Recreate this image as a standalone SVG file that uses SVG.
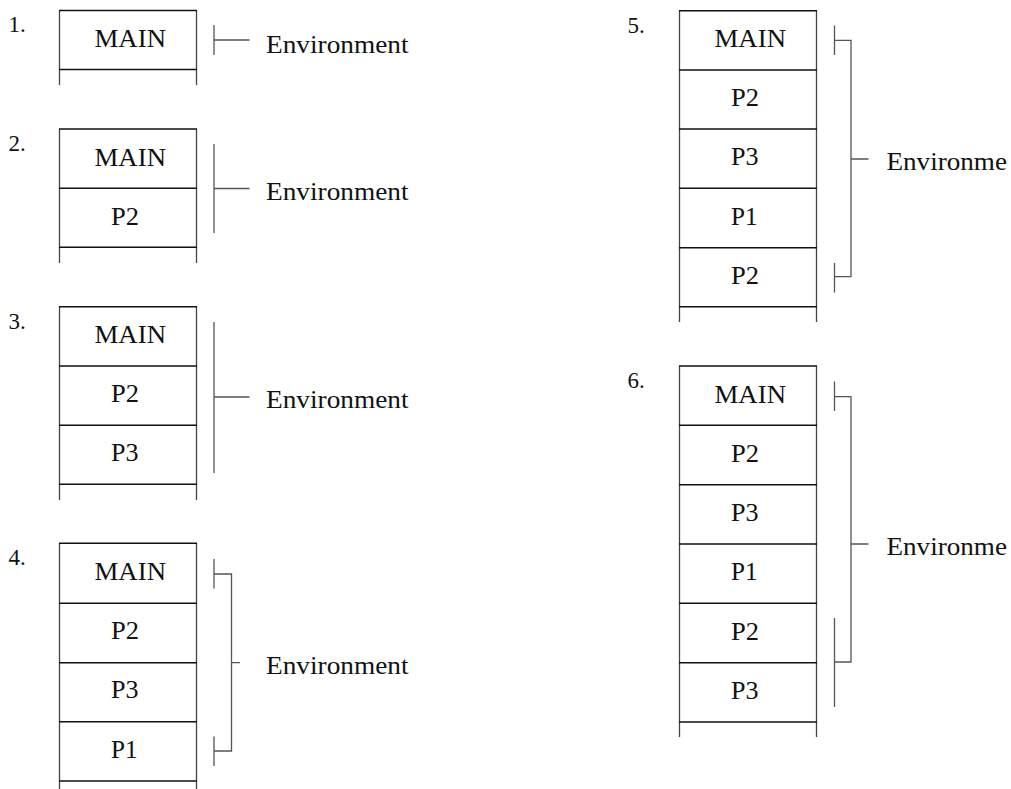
<svg xmlns="http://www.w3.org/2000/svg" width="1011" height="789" viewBox="0 0 1011 789">
<style>
.v{stroke:#444;stroke-width:1.3;fill:none}
.h{stroke:#111;stroke-width:1.4;fill:none}
.br{stroke:#555;stroke-width:1.3;fill:none}
.t{font-family:"Liberation Serif","Times New Roman",serif;font-size:25px;fill:#111}
.n{font-family:"Liberation Serif","Times New Roman",serif;font-size:23px;fill:#111}
</style>
<rect width="1011" height="789" fill="#fff"/>
<g id="stack1">
<text class="n" x="8.5" y="32">1.</text>
<path class="v" d="M59.5,10.5V85M196.5,10.5V85"/>
<path class="h" d="M59,10.5H197M59,69.5H197"/>
<text class="t" x="94.5" y="47" textLength="71.5" lengthAdjust="spacingAndGlyphs">MAIN</text>
</g>
<g id="stack2">
<text class="n" x="8.5" y="151">2.</text>
<path class="v" d="M59.5,129V263M196.5,129V263"/>
<path class="h" d="M59,129H197M59,188.3H197M59,247.3H197"/>
<text class="t" x="94.5" y="165.5" textLength="71.5" lengthAdjust="spacingAndGlyphs">MAIN</text>
<text class="t" x="111" y="224.5" textLength="28" lengthAdjust="spacingAndGlyphs">P2</text>
</g>
<g id="stack3">
<text class="n" x="8.5" y="329">3.</text>
<path class="v" d="M59.5,306.7V500M196.5,306.7V500"/>
<path class="h" d="M59,306.7H197M59,366H197M59,425.3H197M59,484.3H197"/>
<text class="t" x="94.5" y="343" textLength="71.5" lengthAdjust="spacingAndGlyphs">MAIN</text>
<text class="t" x="111" y="402" textLength="28" lengthAdjust="spacingAndGlyphs">P2</text>
<text class="t" x="111" y="461.3" textLength="27.5" lengthAdjust="spacingAndGlyphs">P3</text>
</g>
<g id="stack4">
<text class="n" x="8.5" y="565">4.</text>
<path class="v" d="M59.5,543.3V789M196.5,543.3V789"/>
<path class="h" d="M59,543.3H197M59,603.3H197M59,662.7H197M59,721.7H197M59,781H197"/>
<text class="t" x="94.5" y="580" textLength="71.5" lengthAdjust="spacingAndGlyphs">MAIN</text>
<text class="t" x="111" y="639" textLength="28" lengthAdjust="spacingAndGlyphs">P2</text>
<text class="t" x="111" y="698.4" textLength="27.5" lengthAdjust="spacingAndGlyphs">P3</text>
<text class="t" x="111" y="757.7" textLength="26.5" lengthAdjust="spacingAndGlyphs">P1</text>
</g>
<g id="stack5">
<text class="n" x="627.5" y="32.5">5.</text>
<path class="v" d="M679.5,10.7V322M816.5,10.7V322"/>
<path class="h" d="M679,10.7H817M679,70H817M679,129H817M679,188.3H817M679,247.7H817M679,306.7H817"/>
<text class="t" x="714.5" y="47.3" textLength="71.5" lengthAdjust="spacingAndGlyphs">MAIN</text>
<text class="t" x="731" y="106" textLength="28" lengthAdjust="spacingAndGlyphs">P2</text>
<text class="t" x="731" y="165.3" textLength="27.5" lengthAdjust="spacingAndGlyphs">P3</text>
<text class="t" x="731" y="224.6" textLength="26.5" lengthAdjust="spacingAndGlyphs">P1</text>
<text class="t" x="731" y="284" textLength="28" lengthAdjust="spacingAndGlyphs">P2</text>
</g>
<g id="stack6">
<text class="n" x="627.5" y="387.5">6.</text>
<path class="v" d="M679.5,366V737M816.5,366V737"/>
<path class="h" d="M679,366H817M679,425.3H817M679,484.7H817M679,544H817M679,603.3H817M679,662.7H817M679,722H817"/>
<text class="t" x="714.5" y="402.5" textLength="71.5" lengthAdjust="spacingAndGlyphs">MAIN</text>
<text class="t" x="731" y="461.8" textLength="28" lengthAdjust="spacingAndGlyphs">P2</text>
<text class="t" x="731" y="521" textLength="27.5" lengthAdjust="spacingAndGlyphs">P3</text>
<text class="t" x="731" y="580.4" textLength="26.5" lengthAdjust="spacingAndGlyphs">P1</text>
<text class="t" x="731" y="639.7" textLength="28" lengthAdjust="spacingAndGlyphs">P2</text>
<text class="t" x="731" y="699" textLength="27.5" lengthAdjust="spacingAndGlyphs">P3</text>
</g>
<g id="connectors">
<path class="br" d="M214,25V55M214,40H249.5"/>
<path class="br" d="M214,144V233M214,188.5H249.5"/>
<path class="br" d="M214,322V473M214,397H249.5"/>
<path class="br" d="M214,559V588.5M214,574H231.5V751H214M214,736.5V766M231.5,662.7H240"/>
<path class="br" d="M834.5,25.5V55M834.5,40.3H851V276.7H834.5M834.5,263V292.5M851,159H868.5"/>
<path class="br" d="M834.5,381.5V411M834.5,396.7H851V662H834.5M834.5,618V707M851,544H868.5"/>
</g>
<g id="labels">
<text class="t" x="266" y="52.5" textLength="142.5" lengthAdjust="spacingAndGlyphs">Environment</text>
<text class="t" x="266" y="199.5" textLength="142.5" lengthAdjust="spacingAndGlyphs">Environment</text>
<text class="t" x="266" y="408" textLength="142.5" lengthAdjust="spacingAndGlyphs">Environment</text>
<text class="t" x="266" y="673.7" textLength="142.5" lengthAdjust="spacingAndGlyphs">Environment</text>
<text class="t" x="886.5" y="170" textLength="120.5" lengthAdjust="spacingAndGlyphs">Environme</text>
<text class="t" x="886.5" y="555" textLength="120.5" lengthAdjust="spacingAndGlyphs">Environme</text>
</g>
</svg>
